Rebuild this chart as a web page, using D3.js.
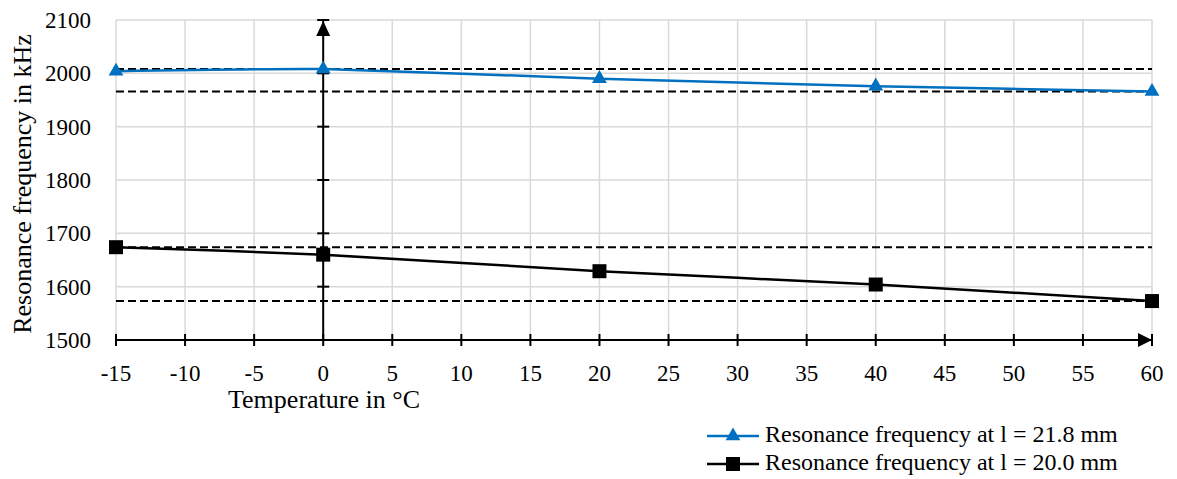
<!DOCTYPE html>
<html>
<head>
<meta charset="utf-8">
<script src="https://cdn.jsdelivr.net/npm/d3@7"></script>
<style>
  body { margin: 0; background: #fff; }
</style>
</head>
<body>
<div id="chart"></div>
<script>
const WIDTH = 1177;
const HEIGHT = 479;
const FONT = '"Liberation Serif"';

const temps = [-15, 0, 20, 40, 60];
const freqLong = [2004, 2008, 1990, 1976, 1966];   // l = 21.8 mm
const freqShort = [1674, 1660, 1629, 1604, 1573];  // l = 20.0 mm
const xTicks = d3.range(-15, 61, 5);
const yTicks = [1500, 1600, 1700, 1800, 1900, 2000, 2100];
const seriesNames = ["Resonance frequency at l = 21.8 mm", "Resonance frequency at l = 20.0 mm"];

const BLUE = "#0070c0";

const svg = d3.select("#chart").append("svg")
  .attr("width", WIDTH)
  .attr("height", HEIGHT);

const x = d3.scaleLinear().domain([-15, 60]).range([116, 1152]);
const y = d3.scaleLinear().domain([1500, 2100]).range([340, 20]);

// grid
svg.append("g")
  .selectAll("line")
  .data(xTicks)
  .enter().append("line")
  .attr("x1", d => x(d)).attr("x2", d => x(d))
  .attr("y1", y(1500)).attr("y2", y(2100))
  .attr("stroke", "#d9d9d9").attr("stroke-width", 1.5);

svg.append("g")
  .selectAll("line")
  .data(yTicks)
  .enter().append("line")
  .attr("x1", x(-15)).attr("x2", x(60))
  .attr("y1", d => y(d)).attr("y2", d => y(d))
  .attr("stroke", "#d9d9d9").attr("stroke-width", 1.5);

// dashed max/min lines of each series
const limits = [d3.max(freqLong), d3.min(freqLong), d3.max(freqShort), d3.min(freqShort)];
svg.append("g")
  .selectAll("line")
  .data(limits)
  .enter().append("line")
  .attr("x1", x(-15)).attr("x2", x(60))
  .attr("y1", d => y(d)).attr("y2", d => y(d))
  .attr("stroke", "#000").attr("stroke-width", 2)
  .attr("stroke-dasharray", "8,4");

// axes with crossing ticks
const axisG = svg.append("g").attr("stroke", "#000").attr("stroke-width", 2);
axisG.append("line")
  .attr("x1", x(-15)).attr("x2", x(60))
  .attr("y1", y(1500)).attr("y2", y(1500));
axisG.selectAll(".xt")
  .data(xTicks)
  .enter().append("line")
  .attr("class", "xt")
  .attr("x1", d => x(d)).attr("x2", d => x(d))
  .attr("y1", y(1500) - 6).attr("y2", y(1500) + 6);
axisG.append("line")
  .attr("x1", x(0)).attr("x2", x(0))
  .attr("y1", y(1500)).attr("y2", y(2100));
axisG.selectAll(".yt")
  .data(yTicks)
  .enter().append("line")
  .attr("class", "yt")
  .attr("x1", x(0) - 6).attr("x2", x(0) + 6)
  .attr("y1", d => y(d)).attr("y2", d => y(d));

// arrow heads
svg.append("path")
  .attr("d", `M${x(60)},${y(1500)} l-14,-7 l0,14 Z`)
  .attr("fill", "#000");
svg.append("path")
  .attr("d", `M${x(0)},${y(2100) + 1} l-7,15 l14,0 Z`)
  .attr("fill", "#000");

// tick labels
svg.append("g")
  .selectAll("text")
  .data(yTicks)
  .enter().append("text")
  .attr("x", 91)
  .attr("y", d => y(d) + 8)
  .attr("text-anchor", "end")
  .style("font-family", FONT)
  .style("font-size", "23px")
  .text(d => d);

svg.append("g")
  .selectAll("text")
  .data(xTicks)
  .enter().append("text")
  .attr("x", d => x(d))
  .attr("y", 381)
  .attr("text-anchor", "middle")
  .style("font-family", FONT)
  .style("font-size", "23px")
  .text(d => d);

svg.append("text")
  .attr("x", 324)
  .attr("y", 408)
  .attr("text-anchor", "middle")
  .style("font-family", FONT)
  .style("font-size", "26px")
  .text("Temperature in °C");

svg.append("text")
  .attr("transform", "translate(31, 184) rotate(-90)")
  .attr("text-anchor", "middle")
  .style("font-family", FONT)
  .style("font-size", "26px")
  .text("Resonance frequency in kHz");

// series
const line = d3.line()
  .x(d => x(d[0]))
  .y(d => y(d[1]))
  .curve(d3.curveCardinal.tension(0.5));

const longPts = temps.map((t, i) => [t, freqLong[i]]);
const shortPts = temps.map((t, i) => [t, freqShort[i]]);

svg.append("path")
  .datum(longPts)
  .attr("d", line)
  .attr("fill", "none")
  .attr("stroke", BLUE)
  .attr("stroke-width", 2.5);

svg.append("path")
  .datum(shortPts)
  .attr("d", line)
  .attr("fill", "none")
  .attr("stroke", "#000")
  .attr("stroke-width", 2.5);

const tri = d3.symbol().type(d3.symbolTriangle).size(95);
svg.append("g")
  .selectAll("path")
  .data(longPts)
  .enter().append("path")
  .attr("transform", d => `translate(${x(d[0])},${y(d[1])})`)
  .attr("d", tri)
  .attr("fill", BLUE);

svg.append("g")
  .selectAll("rect")
  .data(shortPts)
  .enter().append("rect")
  .attr("x", d => x(d[0]) - 7)
  .attr("y", d => y(d[1]) - 7)
  .attr("width", 14).attr("height", 14)
  .attr("fill", "#000");

// legend
const legend = svg.append("g");
const legendRows = [
  { name: seriesNames[0], color: BLUE, shape: "tri" },
  { name: seriesNames[1], color: "#000", shape: "sq" }
];
legendRows.forEach((r, i) => {
  const ly = 436 + i * 28;
  legend.append("line")
    .attr("x1", 707).attr("x2", 759)
    .attr("y1", ly).attr("y2", ly)
    .attr("stroke", r.color).attr("stroke-width", 2.5);
  if (r.shape === "tri") {
    legend.append("path")
      .attr("transform", `translate(733,${ly})`)
      .attr("d", tri)
      .attr("fill", r.color);
  } else {
    legend.append("rect")
      .attr("x", 726).attr("y", ly - 7)
      .attr("width", 14).attr("height", 14)
      .attr("fill", r.color);
  }
  legend.append("text")
    .attr("x", 765)
    .attr("y", ly + 6)
    .style("font-family", FONT)
    .style("font-size", "24px")
    .text(r.name);
});
</script>
</body>
</html>
